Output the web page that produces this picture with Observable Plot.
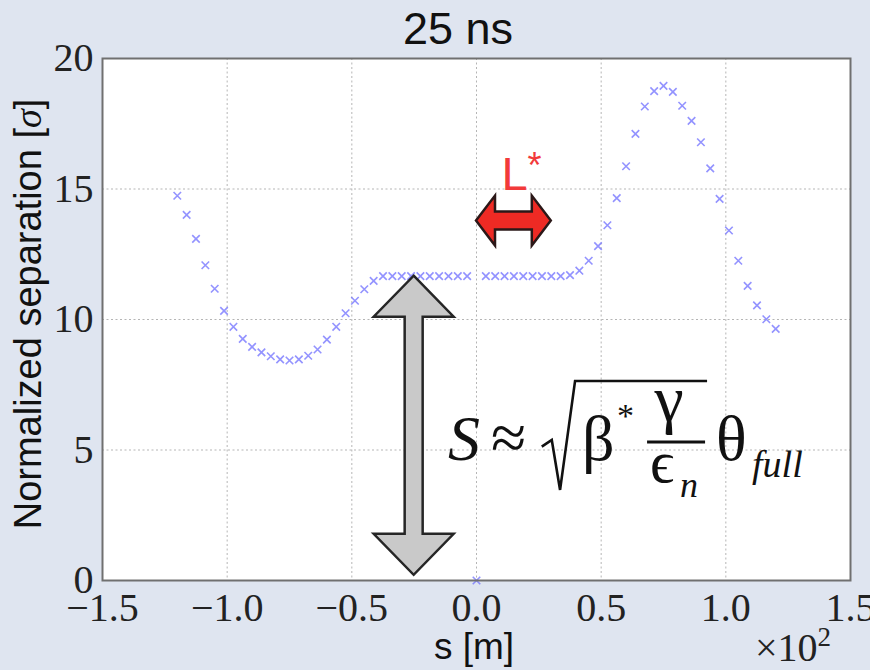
<!DOCTYPE html>
<html><head><meta charset="utf-8">
<script src="https://cdn.jsdelivr.net/npm/d3@7"></script>
<script src="https://cdn.jsdelivr.net/npm/@observablehq/plot@0.6"></script>
<style>
html,body{margin:0;padding:0;background:#dfe5f0;}
#chart svg{display:block;background:transparent;}
</style></head><body><div id="chart"></div>
<script>
// s positions in metres
const sMeters = [-120, -116.25, -112.5, -108.75, -105, -101.25, -97.5, -93.75, -90, -86.25,
  -82.5, -78.75, -75, -71.25, -67.5, -63.75, -60, -56.25, -52.5, -48.75,
  -45, -41.25, -37.5, -33.75, -30, -26.25, -22.5, -18.75, -15, -11.25,
  -7.5, -3.75, 0, 3.75, 7.5, 11.25, 15, 18.75, 22.5, 26.25,
  30, 33.75, 37.5, 41.25, 45, 48.75, 52.5, 56.25, 60, 63.75,
  67.5, 71.25, 75, 78.75, 82.5, 86.25, 90, 93.75, 97.5, 101.25,
  105, 108.75, 112.5, 116.25, 120];
// normalized separation [sigma]
const separation = [14.74, 14.01, 13.09, 12.08, 11.18, 10.33, 9.72, 9.26, 8.95, 8.74,
  8.59, 8.47, 8.43, 8.47, 8.61, 8.85, 9.23, 9.72, 10.24, 10.72,
  11.16, 11.48, 11.66, 11.66, 11.66, 11.66, 11.66, 11.66, 11.66, 11.66,
  11.66, 11.66, 0, 11.66, 11.66, 11.66, 11.66, 11.66, 11.66, 11.66,
  11.66, 11.66, 11.70, 11.87, 12.25, 12.81, 13.61, 14.65, 15.87, 17.11,
  18.16, 18.75, 18.95, 18.72, 18.19, 17.61, 16.79, 15.79, 14.62, 13.41,
  12.25, 11.29, 10.54, 10.01, 9.64];
const xTicks = [-1.5, -1.0, -0.5, 0.0, 0.5, 1.0, 1.5];
const yTicks = [0, 5, 10, 15, 20];
const titleText = "25 ns";
const xLabelText = "s [m]";
const yLabelText = "Normalized separation [";
const yLabelSymbol = "σ";
const xScaleNote = "×10";
const xScaleExp = "2";
const lengthLabel = "L";
const lengthStar = "*";

// annotation anchors (data units: s ×10², separation)
const grayArrow = {x: -0.25, y1: 11.66, y2: 0.2};
const redArrow = {x1: 0.0, x2: 0.3, y: 13.77};
const formulaAnchor = {x: -0.104, y: 4.6};

const points = sMeters.map((s, i) => ({s: s / 100, v: separation[i]}));
const fmtX = d => (d < 0 ? "\u2212" : "") + Math.abs(d).toFixed(1);

const SERIF = "'Liberation Serif', 'Times New Roman', serif";
const SANS = "'Liberation Sans', Arial, sans-serif";

function annotations(index, scales, values, dim) {
  const {x, y} = scales;
  const g = d3.create("svg:g").attr("text-anchor", "start");
  const poly = pts => "M" + pts.map(p => p.join(",")).join("L") + "Z";

  // gray vertical double arrow
  {
    const cx = x(grayArrow.x), yt = y(grayArrow.y1), yb = y(grayArrow.y2);
    const hl = 41, hw = 40, sw = 9;
    g.append("path").attr("d", poly([[cx, yt], [cx + hw, yt + hl], [cx + sw, yt + hl], [cx + sw, yb - hl], [cx + hw, yb - hl], [cx, yb], [cx - hw, yb - hl], [cx - sw, yb - hl], [cx - sw, yt + hl], [cx - hw, yt + hl]]))
      .attr("fill", "#c9c9c9").attr("stroke", "#262626").attr("stroke-width", 2.5).attr("stroke-linejoin", "miter");
  }
  // red horizontal double arrow
  {
    const xl = x(redArrow.x1), xr = x(redArrow.x2), cy = y(redArrow.y);
    const hl = 19, hh = 25, sh = 9;
    g.append("path").attr("d", poly([[xl, cy], [xl + hl, cy - hh], [xl + hl, cy - sh], [xr - hl, cy - sh], [xr - hl, cy - hh], [xr, cy], [xr - hl, cy + hh], [xr - hl, cy + sh], [xl + hl, cy + sh], [xl + hl, cy + hh]]))
      .attr("fill", "#ee2a24").attr("stroke", "#2b1818").attr("stroke-width", 2.5).attr("stroke-linejoin", "miter");
    const mx = (xl + xr) / 2;
    const t = g.append("text").attr("x", mx - 12).attr("y", cy - 31)
      .attr("fill", "#f23a3a").attr("font-family", SANS).attr("font-size", 47);
    t.append("tspan").text(lengthLabel);
    t.append("tspan").attr("font-size", 36).attr("dy", -12).text(lengthStar);
  }
  // formula
  {
    const ax = x(formulaAnchor.x), ay = y(formulaAnchor.y);
    const txt = (s, dx, dy, size, opts = {}) => {
      const e = g.append("text").attr("x", ax + dx).attr("y", ay + dy)
        .attr("font-family", opts.family || SERIF).attr("font-size", size)
        .attr("font-style", opts.italic ? "italic" : "normal").attr("fill", "#111").text(s);
      if (opts.anchor) e.attr("text-anchor", opts.anchor);
      return e;
    };
    txt("S", -2, 0, 64, {italic: true});
    txt("≈", 41, -1, 64);
    g.append("path").attr("d", `M${ax + 91.7},${ay - 13.3}L${ax + 101.7},${ay - 20}L${ax + 110},${ay + 30}L${ax + 125},${ay - 79}L${ax + 257},${ay - 79}`)
      .attr("fill", "none").attr("stroke", "#111").attr("stroke-width", 2.6).attr("stroke-linejoin", "miter");
    txt("β", 132, 0, 64);
    txt("*", 167, -33, 34);
    txt("γ", 219, -39, 66, {anchor: "middle"});
    g.append("line").attr("x1", ax + 197).attr("x2", ax + 255).attr("y1", ay - 18).attr("y2", ay - 18)
      .attr("stroke", "#111").attr("stroke-width", 3);
    txt("ϵ", 200, 22, 60);
    txt("n", 230, 37, 36, {italic: true});
    txt("θ", 266, 0, 64);
    txt("full", 302, 17, 38, {italic: true});
  }
  // title and axis labels
  const L = dim.marginLeft, R = dim.width - dim.marginRight, T = dim.marginTop, B = dim.height - dim.marginBottom;
  g.append("text").attr("x", 458).attr("y", 44).attr("text-anchor", "middle")
    .attr("font-family", SANS).attr("font-size", 45).attr("fill", "#111").text(titleText);
  g.append("text").attr("x", (L + R) / 2 - 2).attr("y", B + 79).attr("text-anchor", "middle")
    .attr("font-family", SANS).attr("font-size", 37).attr("fill", "#111").text(xLabelText);
  const yl = g.append("text").attr("transform", `translate(41,${(T + B) / 2 - 5}) rotate(-90)`).attr("text-anchor", "middle")
    .attr("font-family", SANS).attr("font-size", 38).attr("fill", "#111");
  yl.append("tspan").text(yLabelText);
  yl.append("tspan").attr("font-family", SERIF).attr("font-style", "italic").text(yLabelSymbol);
  yl.append("tspan").text("]");
  const sn = g.append("text").attr("x", 755).attr("y", 661).attr("font-family", SERIF).attr("font-size", 40).attr("fill", "#222");
  sn.append("tspan").text(xScaleNote);
  sn.append("tspan").attr("font-size", 27).attr("dy", -15).text(xScaleExp);
  return g.node();
}

const chart = Plot.plot({
  width: 870, height: 670,
  marginLeft: 102, marginRight: 20, marginTop: 58, marginBottom: 90,
  style: {background: "transparent", overflow: "visible"},
  x: {domain: [-1.5, 1.5]},
  y: {domain: [0, 20]},
  marks: [
    Plot.frame({fill: "white", stroke: null}),
    Plot.gridX(xTicks, {stroke: "#b5b5b5", strokeOpacity: 1, strokeDasharray: "2,2.5"}),
    Plot.gridY(yTicks, {stroke: "#b5b5b5", strokeOpacity: 1, strokeDasharray: "2,2.5"}),
    Plot.axisX(xTicks, {tickSize: 0, tickPadding: 12, tickFormat: fmtX, fontSize: 40, fontFamily: SERIF, fill: "#222", label: null}),
    Plot.axisY(yTicks, {tickSize: 0, tickPadding: 9, tickFormat: d => String(d), fontSize: 40, fontFamily: SERIF, fill: "#222", label: null}),
    Plot.dot(points, {x: "s", y: "v", symbol: "times", r: 3.5, stroke: "#6f6fff", strokeOpacity: 0.75, strokeWidth: 1.6}),
    Plot.frame({stroke: "#707070", strokeWidth: 2}),
    annotations
  ]
});
document.getElementById("chart").appendChild(chart);
</script></body></html>
